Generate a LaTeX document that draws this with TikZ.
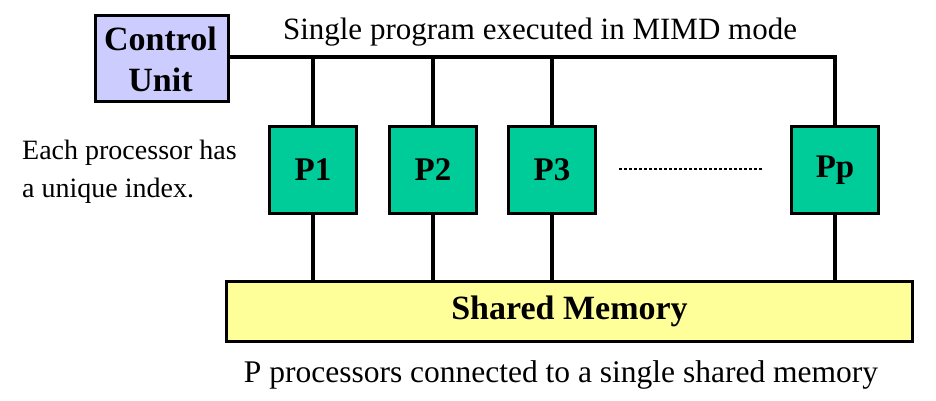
\documentclass[tikz,border=0pt]{standalone}
\usepackage{fontspec}
\setmainfont{Liberation Serif}
\definecolor{cufill}{HTML}{CCCCFF}
\definecolor{pfill}{HTML}{00CC99}
\definecolor{memfill}{HTML}{FFFF99}
\begin{document}
\begin{tikzpicture}[x=1pt,y=-1pt,
  box/.style={draw=black,line width=3pt,inner sep=0pt,anchor=north west},
  pbox/.style={box,fill=pfill,minimum width=87,minimum height=87,font=\bfseries\fontsize{33}{34}\selectfont},
  bus/.style={line width=3.5pt},
  lbl/.style={inner sep=0pt,font=\fontsize{31}{34}\selectfont},
  sidelbl/.style={inner sep=0pt,anchor=base west,font=\fontsize{28}{32}\selectfont}]
\useasboundingbox (0,0) rectangle (936,400);
\node[box,fill=cufill,minimum width=133,minimum height=86] (cu) at (94,14) {};
\node[inner sep=0pt,anchor=base,font=\bfseries\fontsize{34}{36}\selectfont] (cu1) at (160.5,50) {Control};
\node[inner sep=0pt,anchor=base,font=\bfseries\fontsize{34}{36}\selectfont] (cu2) at (160.5,91) {Unit};
\node[pbox] (p1) at (268,125) {P1};
\node[pbox] (p2) at (388,125) {P2};
\node[pbox] (p3) at (507,125) {P3};
\node[pbox] (pp) at (790,125) {Pp};
\node[box,fill=memfill,minimum width=686,minimum height=60,font=\bfseries\fontsize{34}{36}\selectfont] (mem) at (225,280) {Shared Memory};
\coordinate (busend) at (pp.north |- 0,57);
\draw[bus] (cu.east |- busend) -- (busend) -- (pp.north);
\foreach \p in {p1,p2,p3} {
  \draw[bus] (\p.north) -- (\p.north |- busend);
  \draw[bus] (\p.south) -- (\p.south |- mem.north);
}
\draw[bus] (pp.south) -- (pp.south |- mem.north);
\coordinate (d1) at (619,169);
\coordinate (d2) at (763,169);
\draw[line width=2.5pt,dash pattern=on 2.5pt off 2.5pt] (d1) -- (d2);
\node[lbl,anchor=base] (t1) at (540,39) {Single program executed in MIMD mode};
\node[sidelbl] (t2) at (22,159) {Each processor has};
\node[sidelbl] (t3) at (22,197) {a unique index.};
\node[lbl,anchor=base,font=\fontsize{31.5}{34}\selectfont] (t4) at (561,382) {P processors connected to a single shared memory};
\end{tikzpicture}
\end{document}
